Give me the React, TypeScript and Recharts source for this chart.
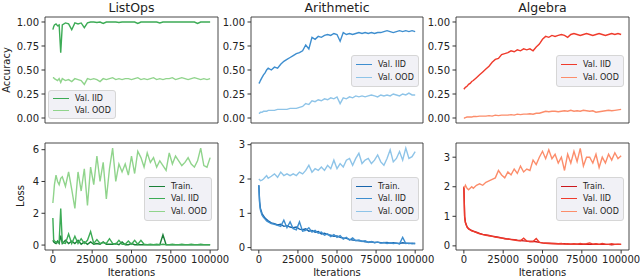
import React from 'react';
import { LineChart, Line, XAxis, YAxis, ReferenceArea, Legend } from 'recharts';

// training iterations (x values shared by every series)
const ITERS = [
  0, 500, 1000, 2000, 3000, 4000, 5000, 6000, 8000, 10000, 12000,
  14000, 16000, 18000, 20000, 22000, 24000, 26000, 28000, 30000, 32000, 34000,
  36000, 38000, 40000, 42000, 44000, 46000, 48000, 50000, 52000, 54000, 56000,
  58000, 60000, 62000, 64000, 66000, 68000, 70000, 72000, 74000, 76000, 78000,
  80000, 82000, 84000, 86000, 88000, 90000, 92000, 94000, 96000, 98000, 100000,
];

const X_TICKS = [0, 25000, 50000, 75000, 100000];
const ACC_TICKS = [0, 0.25, 0.5, 0.75, 1];

// ListOps
const LISTOPS_ACC_IID = [
  0.92, 0.95, 0.97, 0.98, 0.96, 0.97, 0.68, 0.97, 0.99, 0.98, 0.92,
  0.99, 0.98, 0.99, 0.94, 0.99, 1.0, 1.0, 0.995, 1.0, 0.985, 1.0,
  1.0, 1.0, 1.0, 0.995, 1.0, 1.0, 1.0, 1.0, 1.0, 0.985, 1.0,
  1.0, 1.0, 1.0, 1.0, 1.0, 0.99, 1.0, 1.0, 1.0, 1.0, 1.0,
  1.0, 1.0, 1.0, 1.0, 1.0, 1.0, 0.985, 1.0, 1.0, 1.0, 1.0,
];
const LISTOPS_ACC_OOD = [
  0.42, 0.42, 0.41, 0.40, 0.39, 0.41, 0.37, 0.41, 0.39, 0.40, 0.38,
  0.41, 0.40, 0.39, 0.35, 0.41, 0.40, 0.41, 0.40, 0.38, 0.41, 0.40,
  0.41, 0.42, 0.40, 0.41, 0.40, 0.41, 0.41, 0.40, 0.41, 0.42, 0.40,
  0.41, 0.40, 0.41, 0.42, 0.40, 0.41, 0.40, 0.41, 0.41, 0.42, 0.40,
  0.41, 0.42, 0.41, 0.40, 0.41, 0.42, 0.41, 0.40, 0.41, 0.40, 0.41,
];
const LISTOPS_LOSS_TRAIN = [
  0.3, 0.2, 0.15, 0.1, 0.25, 0.1, 0.6, 0.1, 0.3, 0.1, 0.25,
  0.1, 0.3, 0.05, 0.2, 0.05, 0.2, 0.05, 0.1, 0.05, 0.2, 0.05,
  0.05, 0.05, 0.1, 0.02, 0.2, 0.02, 0.02, 0.1, 0.02, 0.02, 0.02,
  0.02, 0.02, 0.02, 0.02, 0.02, 0.02, 0.65, 0.02, 0.02, 0.02, 0.02,
  0.02, 0.02, 0.02, 0.02, 0.02, 0.02, 0.02, 0.02, 0.02, 0.02, 0.02,
];
const LISTOPS_LOSS_IID = [
  1.7, 0.35, 0.25, 0.2, 0.15, 0.2, 2.3, 0.15, 0.1, 0.7, 0.1,
  0.55, 0.1, 0.4, 0.1, 0.3, 0.85, 0.1, 0.35, 0.1, 0.15, 0.1,
  0.4, 0.1, 0.05, 0.3, 0.05, 0.05, 0.25, 0.05, 0.3, 0.05, 0.3,
  0.05, 0.03, 0.05, 0.03, 0.05, 0.03, 0.05, 0.03, 0.03, 0.05, 0.03,
  0.03, 0.05, 0.03, 0.03, 0.05, 0.03, 0.03, 0.05, 0.03, 0.03, 0.03,
];
const LISTOPS_LOSS_OOD = [
  2.65, 3.2, 3.8, 4.4, 4.0, 3.8, 4.2, 4.3, 3.7, 4.6, 3.5,
  2.3, 4.6, 3.4, 4.8, 2.5, 4.9, 3.8, 5.6, 4.0, 5.2, 2.9,
  4.8, 6.1, 4.0, 5.1, 4.6, 5.1, 4.4, 5.6, 4.5, 5.9, 5.5,
  4.9, 5.8, 5.2, 5.5, 4.9, 5.3, 5.0, 4.7, 5.8, 5.1, 5.6,
  5.3, 5.0, 5.2, 5.5, 5.1, 4.9, 5.3, 6.1, 5.0, 4.9, 5.5,
];

// Arithmetic
const ARITH_ACC_IID = [
  0.36, 0.37, 0.39, 0.42, 0.45, 0.47, 0.50, 0.52, 0.50, 0.53, 0.52,
  0.56, 0.59, 0.61, 0.63, 0.65, 0.67, 0.68, 0.70, 0.76, 0.72, 0.84,
  0.82, 0.85, 0.84, 0.86, 0.87, 0.86, 0.88, 0.87, 0.80, 0.89, 0.87,
  0.88, 0.87, 0.88, 0.89, 0.88, 0.89, 0.88, 0.89, 0.88, 0.89, 0.89,
  0.90, 0.91, 0.90, 0.89, 0.90, 0.91, 0.90, 0.91, 0.90, 0.91, 0.90,
];
const ARITH_ACC_OOD = [
  0.05, 0.05, 0.06, 0.06, 0.07, 0.07, 0.07, 0.08, 0.08, 0.08, 0.09,
  0.09, 0.09, 0.09, 0.10, 0.10, 0.10, 0.11, 0.12, 0.15, 0.14, 0.18,
  0.17, 0.19, 0.18, 0.20, 0.19, 0.21, 0.20, 0.22, 0.15, 0.21, 0.20,
  0.22, 0.21, 0.23, 0.22, 0.23, 0.22, 0.23, 0.24, 0.23, 0.22, 0.24,
  0.23, 0.24, 0.23, 0.25, 0.24, 0.23, 0.25, 0.24, 0.26, 0.24, 0.24,
];
const ARITH_LOSS_TRAIN = [
  1.82, 1.35, 1.15, 1.0, 0.92, 0.86, 0.82, 0.78, 0.72, 0.70, 0.66,
  0.68, 0.62, 0.64, 0.60, 0.58, 0.60, 0.54, 0.52, 0.55, 0.48, 0.50,
  0.45, 0.47, 0.40, 0.42, 0.38, 0.36, 0.33, 0.34, 0.30, 0.28, 0.27,
  0.24, 0.22, 0.21, 0.20, 0.19, 0.17, 0.16, 0.17, 0.15, 0.16, 0.14,
  0.14, 0.15, 0.13, 0.14, 0.13, 0.12, 0.14, 0.13, 0.12, 0.13, 0.12,
];
const ARITH_LOSS_IID = [
  1.82, 1.3, 1.1, 0.95, 0.88, 0.83, 0.78, 0.75, 0.70, 0.68, 0.65,
  0.62, 0.80, 0.58, 0.75, 0.55, 0.52, 0.75, 0.48, 0.50, 0.58, 0.45,
  0.50, 0.42, 0.45, 0.36, 0.40, 0.32, 0.38, 0.30, 0.35, 0.25, 0.30,
  0.22, 0.28, 0.20, 0.22, 0.18, 0.20, 0.15, 0.18, 0.14, 0.16, 0.13,
  0.15, 0.12, 0.14, 0.12, 0.13, 0.11, 0.30, 0.12, 0.13, 0.11, 0.12,
];
const ARITH_LOSS_OOD = [
  2.0, 1.98, 1.95, 1.97, 2.0, 2.05, 2.1, 2.02, 2.08, 2.15, 2.05,
  2.2, 2.1, 2.15, 2.1, 2.15, 2.1, 2.2, 2.15, 2.25, 2.4, 2.2,
  2.3, 2.25, 2.35, 2.25, 2.4, 2.3, 2.55, 2.3, 2.45, 2.35, 2.55,
  2.6, 2.4, 2.6, 2.75, 2.45, 2.55, 2.6, 2.45, 2.55, 2.7, 2.5,
  2.4, 2.6, 2.85, 2.5, 2.6, 2.8, 2.55, 2.9, 2.6, 2.65, 2.8,
];

// Algebra
const ALG_ACC_IID = [
  0.30, 0.31, 0.32, 0.33, 0.35, 0.36, 0.38, 0.39, 0.42, 0.45, 0.48,
  0.51, 0.54, 0.58, 0.61, 0.62, 0.66, 0.67, 0.68, 0.70, 0.69, 0.71,
  0.70, 0.72, 0.71, 0.72, 0.70, 0.74, 0.77, 0.82, 0.85, 0.84, 0.86,
  0.85, 0.86, 0.87, 0.86, 0.84, 0.87, 0.88, 0.87, 0.86, 0.87, 0.88,
  0.87, 0.86, 0.87, 0.88, 0.87, 0.86, 0.87, 0.88, 0.87, 0.88, 0.87,
];
const ALG_ACC_OOD = [
  0.0, 0.0, 0.005, 0.01, 0.01, 0.01, 0.01, 0.015, 0.015, 0.02, 0.02,
  0.02, 0.025, 0.02, 0.03, 0.025, 0.03, 0.03, 0.03, 0.035, 0.03, 0.04,
  0.035, 0.04, 0.04, 0.045, 0.04, 0.05, 0.05, 0.06, 0.07, 0.065, 0.07,
  0.07, 0.065, 0.07, 0.075, 0.07, 0.08, 0.07, 0.075, 0.07, 0.08, 0.075,
  0.07, 0.075, 0.06, 0.065, 0.07, 0.075, 0.08, 0.075, 0.08, 0.085, 0.09,
];
const ALG_LOSS_TRAIN = [
  2.0, 1.0, 0.8, 0.65, 0.58, 0.55, 0.52, 0.50, 0.46, 0.42, 0.39,
  0.37, 0.35, 0.33, 0.31, 0.29, 0.27, 0.25, 0.23, 0.22, 0.21, 0.19,
  0.18, 0.17, 0.16, 0.15, 0.15, 0.14, 0.12, 0.10, 0.09, 0.09, 0.08,
  0.08, 0.07, 0.07, 0.07, 0.06, 0.06, 0.06, 0.06, 0.05, 0.06, 0.05,
  0.05, 0.05, 0.06, 0.05, 0.05, 0.05, 0.05, 0.04, 0.05, 0.05, 0.05,
];
const ALG_LOSS_IID = [
  2.0, 0.95, 0.78, 0.63, 0.57, 0.54, 0.51, 0.49, 0.45, 0.41, 0.38,
  0.36, 0.34, 0.32, 0.30, 0.28, 0.26, 0.24, 0.23, 0.21, 0.20, 0.18,
  0.17, 0.26, 0.16, 0.15, 0.15, 0.25, 0.12, 0.10, 0.09, 0.08, 0.08,
  0.07, 0.07, 0.08, 0.06, 0.07, 0.06, 0.07, 0.06, 0.08, 0.06, 0.07,
  0.10, 0.06, 0.07, 0.05, 0.08, 0.06, 0.05, 0.07, 0.05, 0.06, 0.05,
];
const ALG_LOSS_OOD = [
  2.0, 1.98, 2.05, 1.95, 1.9, 1.95, 2.0, 1.95, 2.05, 2.1, 2.05,
  2.15, 2.2, 2.25, 2.3, 2.55, 2.4, 2.3, 2.5, 2.4, 2.6, 2.45,
  2.7, 2.5, 2.6, 2.55, 2.9, 2.75, 3.0, 3.2, 2.95, 3.25, 2.95,
  3.1, 2.8, 3.0, 2.55, 3.1, 2.8, 3.2, 2.85, 3.3, 2.7, 3.0,
  3.0, 2.8, 3.1, 2.65, 3.0, 2.8, 3.1, 2.9, 3.15, 2.95, 3.05,
];

const GREENS = { train: '#1a7f37', iid: '#3cab55', ood: '#90d48c' };
const BLUES = { train: '#1865ac', iid: '#3e8ecf', ood: '#8ec4e8' };
const REDS = { train: '#cb181d', iid: '#ef3b2c', ood: '#fc8d6b' };

const FONT = '"DejaVu Sans", sans-serif';
const INK = '#222';

type Box = { x: number; y: number; w: number; h: number };
type Series = { key: string; name: string; color: string; values: number[] };

const YW = 40;    // reserved width for y tick labels
const TOP = 8;    // room above the frame so the top tick label is not cut
const RIGHT = 26; // room right of the frame for the last x tick label

function LegendBox({ payload, rowH }: any) {
  return (
    <div
      style={{
        background: 'rgba(240,240,245,0.92)',
        border: '1px solid #d6d6d6',
        borderRadius: 3,
        padding: '2px 4px',
        fontSize: 8,
        color: INK,
        fontFamily: FONT,
      }}
    >
      {(payload || []).map((p: any) => (
        <div key={p.value} style={{ display: 'flex', alignItems: 'center', height: rowH }}>
          <span style={{ width: 16, borderTop: `1.5px solid ${p.color}`, marginRight: 6 }} />
          <span>{p.value}</span>
        </div>
      ))}
    </div>
  );
}

function Panel({
  box, yDomain, yTicks, yFmt, series, showX, legend,
}: {
  box: Box;
  yDomain: [number, number];
  yTicks: number[];
  yFmt: (v: number) => string;
  series: Series[];
  showX: boolean;
  legend: { x: number; y: number; rowH: number };
}) {
  const data = ITERS.map((it, i) => {
    const row: Record<string, number> = { it };
    series.forEach((s) => { row[s.key] = s.values[i]; });
    return row;
  });
  const xh = showX ? 22 : 6;
  const left = box.x - YW;
  const top = box.y - TOP;

  return (
    <div style={{ position: 'absolute', left, top }}>
      <LineChart
        width={YW + box.w + RIGHT}
        height={TOP + box.h + xh}
        data={data}
        margin={{ top: TOP, right: RIGHT, left: 0, bottom: 0 }}
      >
        <XAxis
          dataKey="it"
          type="number"
          domain={[-5000, 105000]}
          ticks={X_TICKS}
          allowDataOverflow
          height={xh}
          axisLine={false}
          tickLine={{ stroke: '#333' }}
          tickSize={3.5}
          tickMargin={2}
          tick={showX ? { fontSize: 10, fill: INK, fontFamily: FONT } : false}
          interval={0}
        />
        <YAxis
          type="number"
          domain={yDomain}
          ticks={yTicks}
          allowDataOverflow
          width={YW}
          axisLine={false}
          tickLine={{ stroke: '#333' }}
          tickSize={3.5}
          tickMargin={2.5}
          tickFormatter={yFmt}
          tick={{ fontSize: 10, fill: INK, fontFamily: FONT }}
          interval={0}
        />
        {series.map((s) => (
          <Line
            key={s.key}
            dataKey={s.key}
            name={s.name}
            stroke={s.color}
            strokeWidth={1.4}
            dot={false}
            type="linear"
            isAnimationActive={false}
          />
        ))}
        <ReferenceArea
          x1={-5000}
          x2={105000}
          y1={yDomain[0]}
          y2={yDomain[1]}
          fill="none"
          stroke="#333"
          strokeWidth={0.9}
          fillOpacity={0}
        />
        <Legend
          layout="horizontal"
          verticalAlign="middle"
          align="center"
          wrapperStyle={{ left: legend.x - left, top: legend.y - top, width: 'auto' }}
          content={(props: any) => <LegendBox payload={props.payload} rowH={legend.rowH} />}
        />
      </LineChart>
    </div>
  );
}

const acc = (v: number) => v.toFixed(2);
const loss = (v: number) => String(v);

const Title = ({ text, box }: { text: string; box: Box }) => (
  <div
    style={{
      position: 'absolute', left: box.x, width: box.w, top: 0, height: 16, lineHeight: '16px',
      textAlign: 'center', fontSize: 12.5, color: INK,
    }}
  >
    {text}
  </div>
);

const XLabel = ({ box }: { box: Box }) => (
  <div
    style={{
      position: 'absolute', left: box.x, width: box.w, top: 266, height: 14, lineHeight: '14px',
      textAlign: 'center', fontSize: 10, color: INK,
    }}
  >
    Iterations
  </div>
);

const YLabel = ({ text, cx, cy }: { text: string; cx: number; cy: number }) => (
  <div
    style={{
      position: 'absolute', left: cx - 40, top: cy - 7, width: 80, height: 14, lineHeight: '14px',
      textAlign: 'center', fontSize: 10, color: INK, transform: 'rotate(-90deg)',
    }}
  >
    {text}
  </div>
);

export default function App() {
  const cols = [
    { x: 45, w: 173 },
    { x: 251, w: 172 },
    { x: 456, w: 173 },
  ];
  const topBox = (c: number): Box => ({ x: cols[c].x, y: 17, w: cols[c].w, h: 106 });
  const botBox = (c: number): Box => ({ x: cols[c].x, y: 143, w: cols[c].w, h: 107 });

  return (
    <div
      style={{
        position: 'absolute', left: 0, top: 0, width: 640, height: 280,
        background: '#fff', fontFamily: FONT, overflow: 'hidden',
      }}
    >
      <Title text="ListOps" box={topBox(0)} />
      <Title text="Arithmetic" box={topBox(1)} />
      <Title text="Algebra" box={topBox(2)} />
      <YLabel text="Accuracy" cx={7} cy={70} />
      <YLabel text="Loss" cx={21} cy={196} />

      <Panel
        box={topBox(0)}
        yDomain={[-0.052, 1.052]}
        yTicks={ACC_TICKS}
        yFmt={acc}
        showX={false}
        legend={{ x: 48, y: 90, rowH: 11.5 }}
        series={[
          { key: 'iid', name: 'Val. IID', color: GREENS.iid, values: LISTOPS_ACC_IID },
          { key: 'ood', name: 'Val. OOD', color: GREENS.ood, values: LISTOPS_ACC_OOD },
        ]}
      />
      <Panel
        box={topBox(1)}
        yDomain={[-0.052, 1.052]}
        yTicks={ACC_TICKS}
        yFmt={acc}
        showX={false}
        legend={{ x: 351, y: 55, rowH: 13 }}
        series={[
          { key: 'iid', name: 'Val. IID', color: BLUES.iid, values: ARITH_ACC_IID },
          { key: 'ood', name: 'Val. OOD', color: BLUES.ood, values: ARITH_ACC_OOD },
        ]}
      />
      <Panel
        box={topBox(2)}
        yDomain={[-0.052, 1.052]}
        yTicks={ACC_TICKS}
        yFmt={acc}
        showX={false}
        legend={{ x: 556, y: 55, rowH: 13 }}
        series={[
          { key: 'iid', name: 'Val. IID', color: REDS.iid, values: ALG_ACC_IID },
          { key: 'ood', name: 'Val. OOD', color: REDS.ood, values: ALG_ACC_OOD },
        ]}
      />

      <Panel
        box={botBox(0)}
        yDomain={[-0.31, 6.42]}
        yTicks={[0, 2, 4, 6]}
        yFmt={loss}
        showX
        legend={{ x: 144, y: 177, rowH: 12.5 }}
        series={[
          { key: 'train', name: 'Train.', color: GREENS.train, values: LISTOPS_LOSS_TRAIN },
          { key: 'iid', name: 'Val. IID', color: GREENS.iid, values: LISTOPS_LOSS_IID },
          { key: 'ood', name: 'Val. OOD', color: GREENS.ood, values: LISTOPS_LOSS_OOD },
        ]}
      />
      <Panel
        box={botBox(1)}
        yDomain={[-0.07, 3.05]}
        yTicks={[0, 1, 2, 3]}
        yFmt={loss}
        showX
        legend={{ x: 351, y: 177, rowH: 12.5 }}
        series={[
          { key: 'train', name: 'Train.', color: BLUES.train, values: ARITH_LOSS_TRAIN },
          { key: 'iid', name: 'Val. IID', color: BLUES.iid, values: ARITH_LOSS_IID },
          { key: 'ood', name: 'Val. OOD', color: BLUES.ood, values: ARITH_LOSS_OOD },
        ]}
      />
      <Panel
        box={botBox(2)}
        yDomain={[-0.14, 3.48]}
        yTicks={[0, 1, 2, 3]}
        yFmt={loss}
        showX
        legend={{ x: 556, y: 177, rowH: 12.5 }}
        series={[
          { key: 'train', name: 'Train.', color: REDS.train, values: ALG_LOSS_TRAIN },
          { key: 'iid', name: 'Val. IID', color: REDS.iid, values: ALG_LOSS_IID },
          { key: 'ood', name: 'Val. OOD', color: REDS.ood, values: ALG_LOSS_OOD },
        ]}
      />

      <XLabel box={botBox(0)} />
      <XLabel box={botBox(1)} />
      <XLabel box={botBox(2)} />
    </div>
  );
}
